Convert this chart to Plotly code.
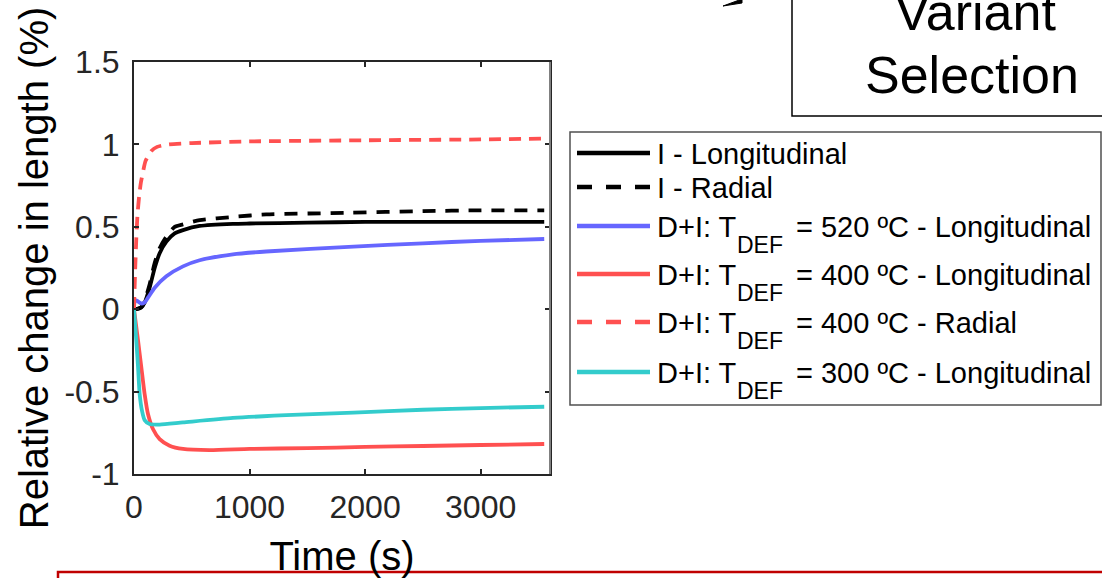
import plotly.graph_objects as go

# ---------------- data ----------------
t_il = [0, 30, 63, 92, 135, 179, 222, 280, 352, 424, 568, 856, 1000, 1500, 2000, 2500, 3000, 3550]
v_il = [0.0, 0.002, 0.01, 0.04, 0.13, 0.25, 0.34, 0.41, 0.46, 0.48, 0.505, 0.518, 0.52, 0.525, 0.53, 0.53, 0.53, 0.53]

t_ir = [0, 30, 63, 92, 135, 179, 222, 280, 352, 424, 568, 856, 1144, 1865, 2500, 3000, 3550]
v_ir = [0.0, 0.002, 0.012, 0.05, 0.15, 0.28, 0.37, 0.44, 0.50, 0.515, 0.54, 0.56, 0.575, 0.585, 0.595, 0.60, 0.60]

t_520 = [0, 8, 30, 60, 90, 121, 179, 280, 424, 568, 856, 1144, 1900, 2500, 3000, 3550]
v_520 = [0.0, 0.055, 0.05, 0.035, 0.04, 0.07, 0.13, 0.20, 0.26, 0.297, 0.333, 0.35, 0.38, 0.40, 0.415, 0.426]

t_400l = [0, 35, 63, 92, 121, 164, 222, 308, 424, 654, 1000, 1500, 2000, 2500, 3000, 3550]
v_400l = [0.0, -0.19, -0.35, -0.515, -0.636, -0.727, -0.788, -0.828, -0.848, -0.855, -0.848, -0.843, -0.836, -0.83, -0.824, -0.818]

t_400r = [0, 10, 20, 30, 45, 60, 80, 100, 150, 200, 300, 500, 1000, 2000, 3000, 3550]
v_400r = [0.0, 0.24, 0.43, 0.57, 0.69, 0.77, 0.84, 0.90, 0.96, 0.985, 1.0, 1.008, 1.018, 1.025, 1.03, 1.035]

t_300l = [0, 20, 35, 49, 69, 92, 135, 222, 424, 856, 1432, 1900, 2500, 3000, 3550]
v_300l = [0.0, -0.19, -0.35, -0.515, -0.616, -0.673, -0.697, -0.70, -0.687, -0.66, -0.64, -0.628, -0.61, -0.60, -0.592]

x_ticks = [0, 1000, 2000, 3000]
y_ticks = [-1, -0.5, 0, 0.5, 1, 1.5]
y_tick_labels = ["-1", "-0.5", "0", "0.5", "1", "1.5"]

series_names = [
    "I - Longitudinal",
    "I - Radial",
    "D+I: T<sub>DEF</sub> = 520 ºC - Longitudinal",
    "D+I: T<sub>DEF</sub> = 400 ºC - Longitudinal",
    "D+I: T<sub>DEF</sub> = 400 ºC - Radial",
    "D+I: T<sub>DEF</sub> = 300 ºC - Longitudinal",
]
legend_main = ["I - Longitudinal", "I - Radial", "D+I: T", "D+I: T", "D+I: T", "D+I: T"]
legend_tail = [None, None, "= 520 ºC - Longitudinal", "= 400 ºC - Longitudinal",
               "= 400 ºC - Radial", "= 300 ºC - Longitudinal"]

# ---------------- styles ----------------
FONT = "Liberation Sans, Arial, sans-serif"
W, H = 1102, 578
ML, MR, MT, MB = 134, 552, 62, 104
PW, PH = W - ML - MR, H - MT - MB

colors = ["#000000", "#000000", "#6666FF", "#FF5050", "#FF5050", "#33CCCC"]
dashes = ["solid", "13px,10px", "solid", "solid", "12px,8px", "solid"]
lw = 3.8


def px(x):
    return (x - ML) / PW


def py(y):
    return (H - MB - y) / PH


fig = go.Figure()
data = [(t_il, v_il), (t_ir, v_ir), (t_520, v_520), (t_400l, v_400l), (t_400r, v_400r), (t_300l, v_300l)]
for (tt, vv), name, c, d in zip(data, series_names, colors, dashes):
    fig.add_trace(go.Scatter(x=tt, y=vv, mode="lines", name=name,
                             line=dict(color=c, width=lw, dash=d, shape="spline", smoothing=0.6),
                             showlegend=False))

shapes = []
annotations = []

# right axis edge is grey in the reference
shapes.append(dict(type="line", xref="paper", yref="paper", x0=1, x1=1, y0=0, y1=1,
                   line=dict(color="#808080", width=2)))

# legend box
shapes.append(dict(type="rect", xref="paper", yref="paper", x0=px(570), x1=px(1101),
                   y0=py(132), y1=py(405), line=dict(color="#505050", width=1.5),
                   fillcolor="white", layer="below"))
row_y = [153, 187, 226, 274, 322, 372]
for i, ry in enumerate(row_y):
    shapes.append(dict(type="line", xref="paper", yref="paper", x0=px(577), x1=px(650),
                       y0=py(ry), y1=py(ry),
                       line=dict(color=colors[i], width=4.5,
                                 dash="15px,14px" if dashes[i] != "solid" else "solid")))
    annotations.append(dict(xref="paper", yref="paper", x=px(655), y=py(ry + 1),
                            xanchor="left", yanchor="middle", showarrow=False,
                            text=legend_main[i], font=dict(family=FONT, size=29, color="#000000")))
    if legend_tail[i]:
        annotations.append(dict(xref="paper", yref="paper", x=px(735), y=py(ry + 19),
                                xanchor="left", yanchor="middle", showarrow=False,
                                text="DEF", font=dict(family=FONT, size=23, color="#000000")))
        annotations.append(dict(xref="paper", yref="paper", x=px(794), y=py(ry + 1),
                                xanchor="left", yanchor="middle", showarrow=False,
                                text=legend_tail[i], font=dict(family=FONT, size=29, color="#000000")))

# "Variant Selection" box (cropped at top/right)
shapes.append(dict(type="rect", xref="paper", yref="paper", x0=px(792), x1=px(1120),
                   y0=py(116), y1=py(-20), line=dict(color="#000000", width=1.5)))
annotations.append(dict(xref="paper", yref="paper", x=px(975), y=py(32), xanchor="center",
                        yanchor="bottom", yshift=-11, showarrow=False, text="Variant",
                        font=dict(family=FONT, size=52, color="#000000")))
annotations.append(dict(xref="paper", yref="paper", x=px(972), y=py(95), xanchor="center",
                        yanchor="bottom", yshift=-11, showarrow=False, text="Selection",
                        font=dict(family=FONT, size=52, color="#000000")))

# fragment of an arrow at the top edge
x0p, x1p = px(723), px(742)
shapes.append(dict(type="path", xref="paper", yref="paper",
                   path=f"M {x0p},{py(6)} L {x1p},{py(-1)} L {x1p},{py(3)} Z",
                   fillcolor="#000000", line=dict(color="#000000", width=1)))

# red frame at the bottom (cropped)
shapes.append(dict(type="rect", xref="paper", yref="paper", x0=px(58), x1=px(1130),
                   y0=py(610), y1=py(572), line=dict(color="#C00000", width=2.5)))

fig.update_layout(
    width=W, height=H, autosize=False,
    margin=dict(l=ML, r=MR, t=MT, b=MB, pad=0),
    paper_bgcolor="white", plot_bgcolor="white",
    font=dict(family=FONT, color="#262626"),
    shapes=shapes, annotations=annotations,
    showlegend=False,
)
fig.update_xaxes(range=[0, 3600], tickvals=x_ticks, ticktext=[str(v) for v in x_ticks],
                 ticks="inside", ticklen=5, tickwidth=1.5, tickcolor="#262626",
                 showline=True, linecolor="#262626", linewidth=2, mirror="ticks",
                 showgrid=False, zeroline=False, ticklabelstandoff=4, automargin=False,
                 tickfont=dict(family=FONT, size=32, color="#262626"),
                 title=dict(text="Time (s)", font=dict(family=FONT, size=40, color="#000000"), standoff=18))
fig.update_yaxes(range=[-1, 1.5], tickvals=y_ticks, ticktext=y_tick_labels,
                 ticks="inside", ticklen=5, tickwidth=1.5, tickcolor="#262626",
                 showline=True, linecolor="#262626", linewidth=2, mirror="ticks",
                 showgrid=False, zeroline=False, ticklabelstandoff=6, automargin=False,
                 tickfont=dict(family=FONT, size=32, color="#262626"),
                 title=dict(text="Relative change in length (%)",
                            font=dict(family=FONT, size=40, color="#000000"), standoff=3))

fig.write_html("out.html")
